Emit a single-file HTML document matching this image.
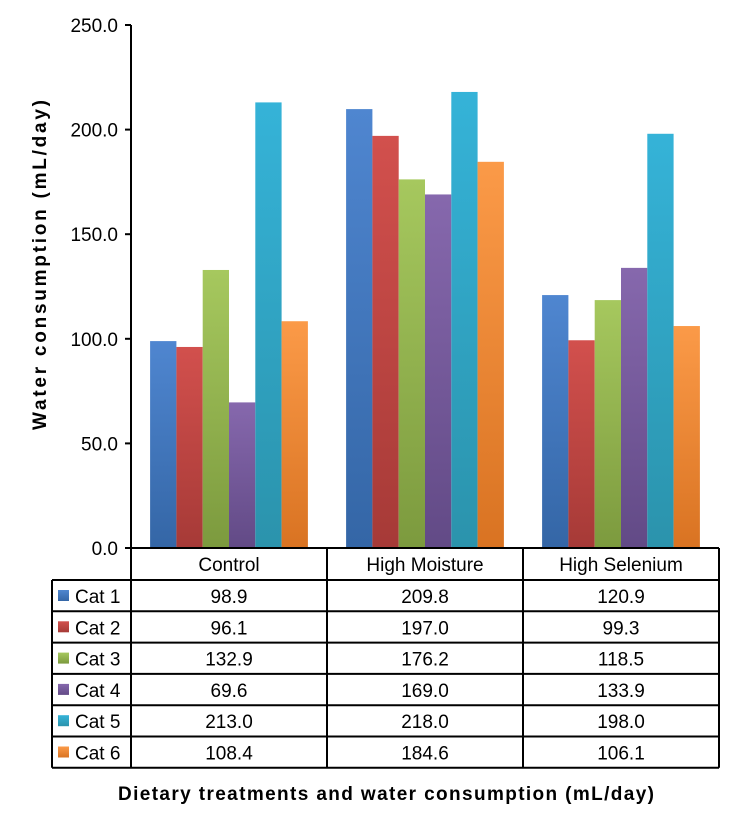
<!DOCTYPE html>
<html><head><meta charset="utf-8"><style>
body{margin:0;background:#fff;}
svg text{font-family:"Liberation Sans",Arial,sans-serif;fill:#000;}
</style></head><body>
<svg width="745" height="823" viewBox="0 0 745 823" xmlns="http://www.w3.org/2000/svg">
<defs id="defs"></defs>
<g id="plot"></g>
<g id="table"></g>
<text x="46" y="265" font-size="19" font-weight="bold" text-anchor="middle" textLength="330" lengthAdjust="spacing" transform="rotate(-90 46 265)">Water consumption  (mL/day)</text>
<text x="386" y="800" font-size="19" font-weight="bold" text-anchor="middle" textLength="536" lengthAdjust="spacing">Dietary  treatments  and water consumption  (mL/day)</text>
</svg>
<script>
const categories = ["Control","High Moisture","High Selenium"];
const seriesNames = ["Cat 1","Cat 2","Cat 3","Cat 4","Cat 5","Cat 6"];
const cat1 = [98.9,209.8,120.9];
const cat2 = [96.1,197.0,99.3];
const cat3 = [132.9,176.2,118.5];
const cat4 = [69.6,169.0,133.9];
const cat5 = [213.0,218.0,198.0];
const cat6 = [108.4,184.6,106.1];
const yTicks = [0,50,100,150,200,250];
const series = [cat1,cat2,cat3,cat4,cat5,cat6];
const colorsTop = ["#4f86d0","#d2504d","#a6c85e","#8668ad","#35b3d8","#fb9a48"];
const colorsBot = ["#3466a6","#a63a37","#7c9a3e","#624a86","#2b93ac","#d97322"];
const NS="http://www.w3.org/2000/svg";
const x0=131,x1=719,y0=548,yTop=25,yMax=250;
const gw=(x1-x0)/categories.length, bw=26.3, pad=(gw-6*bw)/2;
const y=v=>y0-(v/yMax)*(y0-yTop);
function mk(t,a,p){const e=document.createElementNS(NS,t);for(const k in a)e.setAttribute(k,a[k]);p.appendChild(e);return e;}
const defs=document.getElementById('defs'),plot=document.getElementById('plot'),tbl=document.getElementById('table');
colorsTop.forEach((c,i)=>{const g=mk('linearGradient',{id:'g'+i,x1:0,y1:0,x2:0,y2:1},defs);mk('stop',{offset:0,'stop-color':c},g);mk('stop',{offset:1,'stop-color':colorsBot[i]},g);});
yTicks.forEach(t=>{
  const l=mk('line',{x1:x0-6,x2:x0,y1:y(t),y2:y(t),stroke:'#000','stroke-width':2},plot);
  
  const tx=mk('text',{x:x0-13,y:y(t)+7,'font-size':19,'text-anchor':'end'},plot);tx.textContent=t.toFixed(1);
  
});
series.forEach((s,si)=>s.forEach((v,ci)=>{
  const bx=x0+ci*gw+pad+si*bw;
  const r=mk('rect',{x:bx,y:y(v),width:bw,height:y0-y(v),fill:'url(#g'+si+')'},plot);
  
  
}));
const ax=mk('line',{x1:x0,x2:x0,y1:yTop,y2:y0,stroke:'#000','stroke-width':2},plot);

const tl=52,rh=31.3,hy=y0,ry=580;
const L=(a,b,c,d)=>mk('line',{x1:a,y1:b,x2:c,y2:d,stroke:'#000','stroke-width':2},tbl);
L(x0,hy,x1,hy);
for(let c=0;c<=categories.length;c++)L(x0+c*gw,hy,x0+c*gw,ry+6*rh);
L(tl,ry,tl,ry+6*rh);
for(let r=0;r<=6;r++)L(tl,ry+r*rh,x1,ry+r*rh);
categories.forEach((c,ci)=>{const t=mk('text',{x:x0+ci*gw+gw/2,y:hy+23,'font-size':19,'text-anchor':'middle'},tbl);t.textContent=c;
  });
series.forEach((s,si)=>{
  const yy=ry+si*rh;
  const k=mk('rect',{x:58,y:yy+10,width:11,height:11,fill:'url(#g'+si+')'},tbl);
  
  const n=mk('text',{x:75,y:yy+23,'font-size':19},tbl);n.textContent=seriesNames[si];
  
  s.forEach((v,ci)=>{const t=mk('text',{x:x0+ci*gw+gw/2,y:yy+23,'font-size':19,'text-anchor':'middle'},tbl);t.textContent=v.toFixed(1);
    });
});
</script>
</body></html>
